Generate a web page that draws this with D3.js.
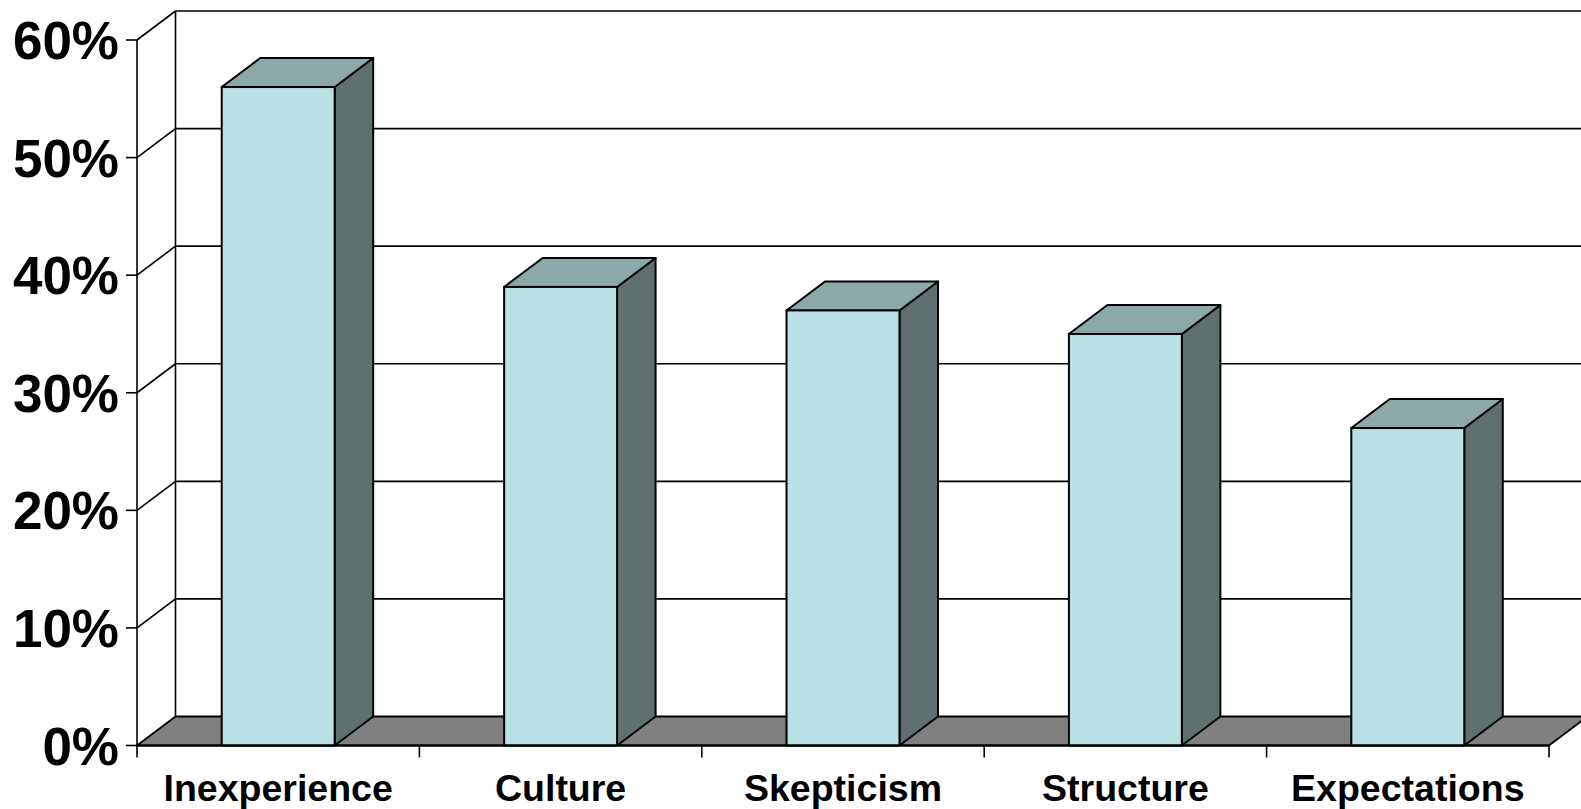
<!DOCTYPE html>
<html>
<head>
<meta charset="utf-8">
<script src="https://cdn.jsdelivr.net/npm/d3@7"></script>
<style>
  html, body { margin: 0; padding: 0; background: #fff; overflow: hidden; }
  svg { display: block; }
  text { font-family: "Liberation Sans", Arial, sans-serif; font-weight: bold; fill: #000; }
</style>
</head>
<body>
<svg id="chart" width="1581" height="809"></svg>
<script>
// Reasons cited (share of respondents)
const categories = ["Inexperience", "Culture", "Skepticism", "Structure", "Expectations"];
const values = [0.56, 0.39, 0.37, 0.35, 0.27];
const yTicks = [0, 0.1, 0.2, 0.3, 0.4, 0.5, 0.6];

const svg = d3.select("#chart");

// Oblique depth of the 3-D box (back plane offset)
const depth = { dx: 38.5, dy: -29 };

const y = d3.scaleLinear().domain([0, 0.6]).range([745.5, 40]);
const x = d3.scaleBand()
  .domain(categories)
  .range([137, 1549])
  .paddingInner(0.6)
  .paddingOuter(0.3);
const step = x.step();
const x0 = 137, x1 = 1549;

const colors = {
  front: "#b9e0e3",
  top: "#8ca9aa",
  side: "#5e7070",
  floor: "#808080"
};

const line = d3.line();

// Back wall gridlines
svg.append("g").selectAll("line")
  .data(yTicks.filter(d => d > 0))
  .join("line")
  .attr("x1", x0 + depth.dx).attr("x2", x1 + depth.dx)
  .attr("y1", d => y(d) + depth.dy).attr("y2", d => y(d) + depth.dy)
  .attr("stroke", "#000").attr("stroke-width", 1.6);

// Back wall left edge
svg.append("line")
  .attr("x1", x0 + depth.dx).attr("x2", x0 + depth.dx)
  .attr("y1", y(0.6) + depth.dy).attr("y2", y(0) + depth.dy)
  .attr("stroke", "#000").attr("stroke-width", 1.6);

// Side wall gridlines
svg.append("g").selectAll("line")
  .data(yTicks.filter(d => d > 0))
  .join("line")
  .attr("x1", x0).attr("x2", x0 + depth.dx)
  .attr("y1", d => y(d)).attr("y2", d => y(d) + depth.dy)
  .attr("stroke", "#000").attr("stroke-width", 1.6);

// Floor
svg.append("path")
  .attr("d", line([
    [x0, y(0)], [x1, y(0)],
    [x1 + depth.dx, y(0) + depth.dy], [x0 + depth.dx, y(0) + depth.dy]
  ]) + "Z")
  .attr("fill", colors.floor)
  .attr("stroke", "#000").attr("stroke-width", 1.8)
  .attr("stroke-linejoin", "round");

// Bars: front, top and right side faces
const bars = svg.append("g").selectAll("g")
  .data(categories.map((c, i) => ({ c, v: values[i] })))
  .join("g");

bars.append("path")
  .attr("d", d => {
    const l = x(d.c), r = l + x.bandwidth(), t = y(d.v);
    return line([[r, t], [r, y(0)], [r + depth.dx, y(0) + depth.dy], [r + depth.dx, t + depth.dy]]) + "Z";
  })
  .attr("fill", colors.side)
  .attr("stroke", "#000").attr("stroke-width", 2).attr("stroke-linejoin", "round");

bars.append("path")
  .attr("d", d => {
    const l = x(d.c), r = l + x.bandwidth(), t = y(d.v);
    return line([[l, t], [r, t], [r + depth.dx, t + depth.dy], [l + depth.dx, t + depth.dy]]) + "Z";
  })
  .attr("fill", colors.top)
  .attr("stroke", "#000").attr("stroke-width", 2).attr("stroke-linejoin", "round");

bars.append("rect")
  .attr("x", d => x(d.c))
  .attr("y", d => y(d.v))
  .attr("width", x.bandwidth())
  .attr("height", d => y(0) - y(d.v))
  .attr("fill", colors.front)
  .attr("stroke", "#000").attr("stroke-width", 2);

// Value axis (front left edge)
svg.append("line")
  .attr("x1", x0).attr("x2", x0)
  .attr("y1", y(0.6)).attr("y2", y(0))
  .attr("stroke", "#000").attr("stroke-width", 1.6);

const yAxis = svg.append("g").attr("transform", `translate(${x0},0)`);
yAxis.selectAll("line")
  .data(yTicks)
  .join("line")
  .attr("x1", -11).attr("x2", 0)
  .attr("y1", d => y(d)).attr("y2", d => y(d))
  .attr("stroke", "#000").attr("stroke-width", 1.6);
yAxis.selectAll("text")
  .data(yTicks)
  .join("text")
  .attr("x", -18)
  .attr("y", d => y(d))
  .attr("dy", "0.36em")
  .attr("text-anchor", "end")
  .attr("font-size", 53)
  .text(d3.format(".0%"));

// Category axis (front floor edge)
const catTicks = d3.range(categories.length + 1).map(i => x0 + i * step);
svg.append("line")
  .attr("x1", x0).attr("x2", x1)
  .attr("y1", y(0)).attr("y2", y(0))
  .attr("stroke", "#000").attr("stroke-width", 2);
svg.append("g").selectAll("line")
  .data(catTicks)
  .join("line")
  .attr("x1", d => d).attr("x2", d => d)
  .attr("y1", y(0)).attr("y2", y(0) + 12)
  .attr("stroke", "#000").attr("stroke-width", 1.6);
svg.append("g").selectAll("text")
  .data(categories)
  .join("text")
  .attr("x", d => x(d) + x.bandwidth() / 2)
  .attr("y", 801)
  .attr("text-anchor", "middle")
  .attr("font-size", 37.5)
  .text(d => d);
</script>
</body>
</html>
